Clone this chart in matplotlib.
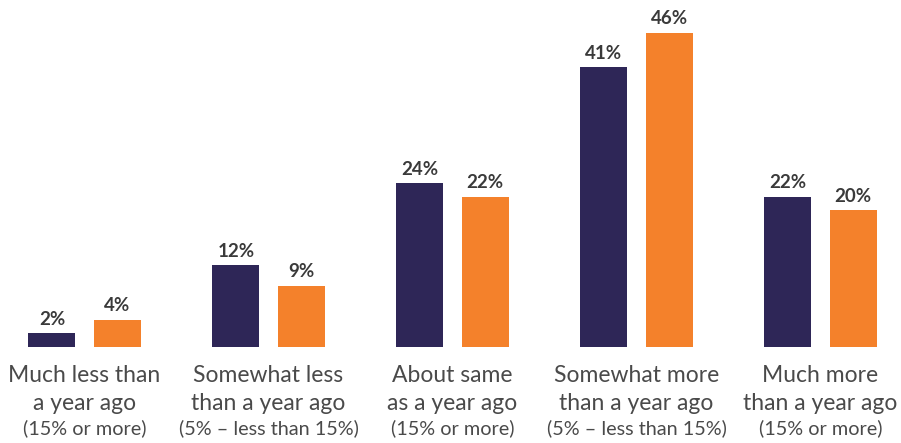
import matplotlib
matplotlib.use("Agg")
import matplotlib.pyplot as plt
from matplotlib.transforms import blended_transform_factory

categories = ["Much less than\na year ago", "Somewhat less\nthan a year ago", "About same\nas a year ago",
              "Somewhat more\nthan a year ago", "Much more\nthan a year ago"]
ranges = ["(15% or more)", "(5% \u2013 less than 15%)", "(15% or more)", "(5% \u2013 less than 15%)", "(15% or more)"]
series_a = [2, 12, 24, 41, 22]
series_b = [4, 9, 22, 46, 20]

navy = "#2e2657"
orange = "#f4812b"
text_col = "#3a3a3a"

plt.rcParams["font.family"] = ["Lato", "DejaVu Sans"]

fig = plt.figure(figsize=(9.01, 4.43), dpi=100)
ax = fig.add_axes([0, 0.2167, 1, 0.7833])
ax.set_xlim(-84.5 / 184, (901 - 84.5) / 184)
ax.set_ylim(0, 50.83)
ax.axis("off")

x = list(range(len(categories)))
w = 0.255
off = 0.177
ax.bar([i - off for i in x], series_a, width=w, color=navy)
ax.bar([i + off for i in x], series_b, width=w, color=orange)

for i in x:
    ax.annotate(f"{series_a[i]}%", (i - off, series_a[i]), xytext=(0, 4), textcoords="offset points",
                ha="center", va="bottom", fontsize=13.5, fontweight="bold", color=text_col)
    ax.annotate(f"{series_b[i]}%", (i + off, series_b[i]), xytext=(0, 4), textcoords="offset points",
                ha="center", va="bottom", fontsize=13.5, fontweight="bold", color=text_col)

tr = blended_transform_factory(ax.transData, fig.transFigure)
for i in x:
    line1, line2 = categories[i].split("\n")
    ax.text(i, 1 - 375 / 443, line1, transform=tr, ha="center", va="center",
            fontsize=16.5, color="#4a4a4a")
    ax.text(i, 1 - 404 / 443, line2, transform=tr, ha="center", va="center",
            fontsize=16.5, color="#4a4a4a")
    ax.text(i, 1 - 428 / 443, ranges[i], transform=tr, ha="center", va="center",
            fontsize=14.3, color="#4a4a4a")

fig.savefig("out.png", dpi=100)
